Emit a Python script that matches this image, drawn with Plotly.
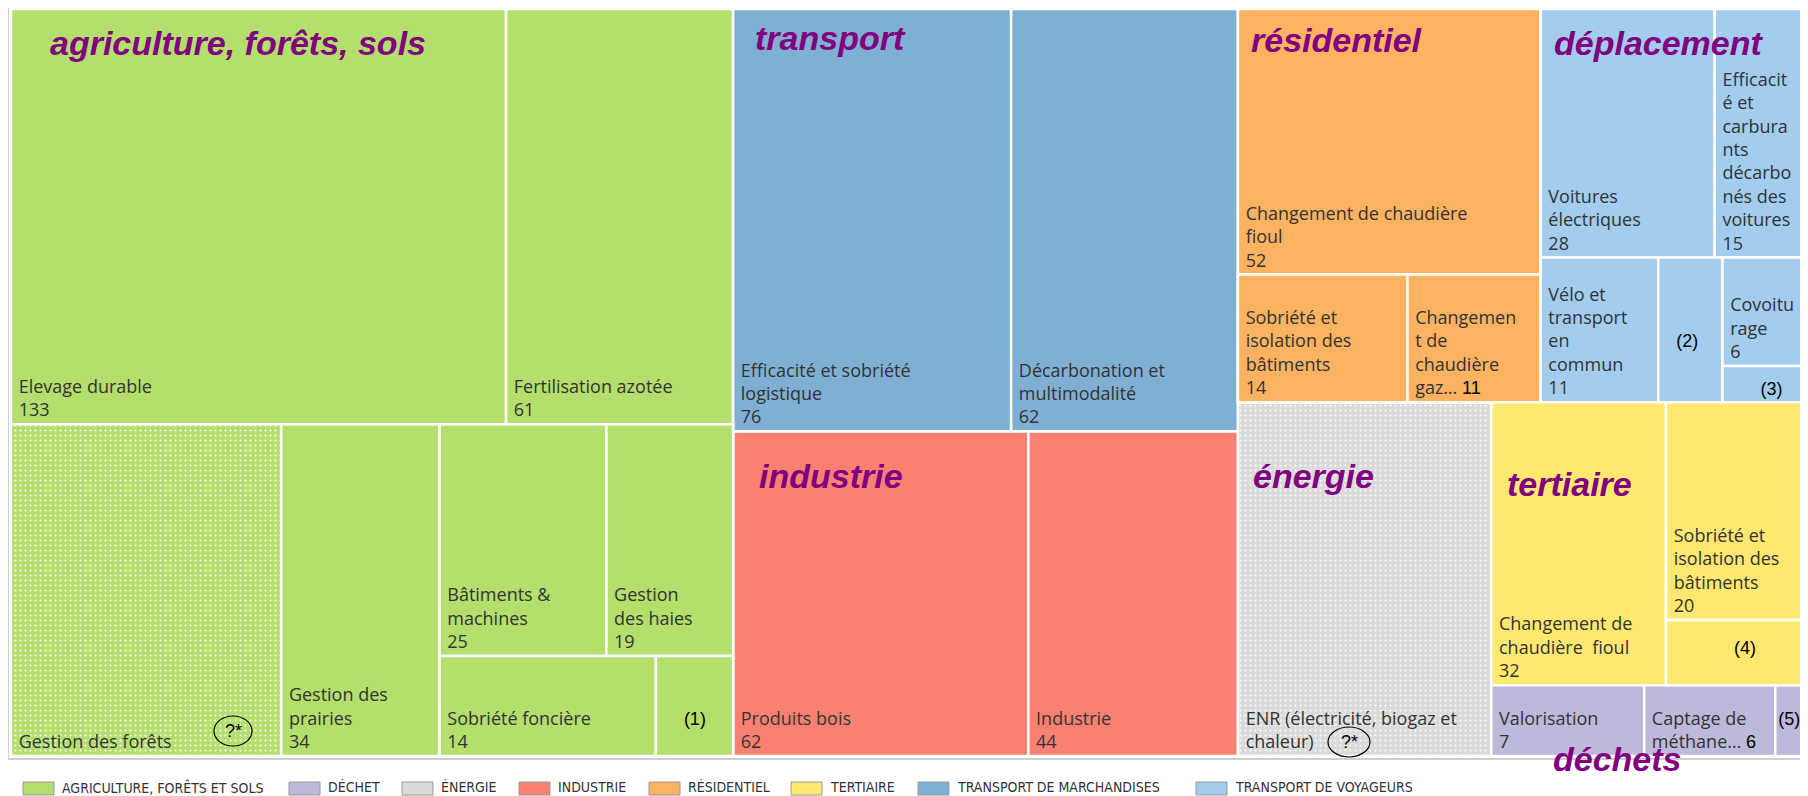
import plotly.graph_objects as go

# page has an 8px body margin: figure is sized so it fits the 1808x796 window
OFF = 8
W, H = 1808 - OFF, 796 - OFF

# ---------------- data ----------------
sectors = ["AGRICULTURE, FORÊTS ET SOLS", "DÉCHET", "ÉNERGIE", "INDUSTRIE",
           "RÉSIDENTIEL", "TERTIAIRE", "TRANSPORT DE MARCHANDISES", "TRANSPORT DE VOYAGEURS"]
sector_colors = ["#B4DF6D", "#BDB9DA", "#DADADA", "#FA8072",
                 "#FBB261", "#FFE870", "#7FB0D4", "#A2CDEE"]

# treemap nodes, listed depth-first (group nodes "g_*" only structure the tiling)
node_ids = [
    "root",
    "g_agri", "g_agri_top", "Elevage durable", "Fertilisation azotée",
    "g_agri_bot", "Gestion des forêts", "Gestion des prairies",
    "g_agri_small", "g_agri_s1", "Bâtiments & machines", "Gestion des haies",
    "g_agri_s2", "Sobriété foncière", "(1)",
    "g_ti", "g_transport", "Efficacité et sobriété logistique", "Décarbonation et multimodalité",
    "g_industrie", "Produits bois", "Industrie",
    "g_rest", "g_rv", "g_res", "Changement de chaudière fioul (rés.)", "g_res_b",
    "Sobriété et isolation des bâtiments (rés.)", "Changement de chaudière gaz",
    "g_voy", "g_voy_a", "Voitures électriques", "Efficacité et carburants décarbonés des voitures",
    "g_voy_b", "Vélo et transport en commun", "(2)", "g_voy_c", "Covoiturage", "(3)",
    "g_etd", "ENR (électricité, biogaz et chaleur)", "g_td", "g_tert",
    "Changement de chaudière fioul (tert.)", "g_tert_b",
    "Sobriété et isolation des bâtiments (tert.)", "(4)",
    "g_dech", "Valorisation", "Captage de méthane", "(5)",
]
node_parents = [
    "",
    "root", "g_agri", "g_agri_top", "g_agri_top",
    "g_agri", "g_agri_bot", "g_agri_bot",
    "g_agri_bot", "g_agri_small", "g_agri_s1", "g_agri_s1",
    "g_agri_small", "g_agri_s2", "g_agri_s2",
    "root", "g_ti", "g_transport", "g_transport",
    "g_ti", "g_industrie", "g_industrie",
    "root", "g_rest", "g_rv", "g_res", "g_res",
    "g_res_b", "g_res_b",
    "g_rv", "g_voy", "g_voy_a", "g_voy_a",
    "g_voy", "g_voy_b", "g_voy_b", "g_voy_b", "g_voy_c", "g_voy_c",
    "g_rest", "g_etd", "g_etd", "g_td",
    "g_tert", "g_tert",
    "g_tert_b", "g_tert_b",
    "g_td", "g_dech", "g_dech", "g_dech",
]
node_values = [
    0,
    0, 0, 133, 61,
    0, 58, 34,
    0, 0, 25, 19,
    0, 14, 5,
    0, 0, 76, 62,
    0, 62, 44,
    0, 0, 0, 52, 0,
    14, 11,
    0, 0, 28, 15,
    0, 11, 6, 0, 6, 2,
    0, 58, 0, 0,
    32, 0,
    20, 6,
    0, 7, 6, 1.5,
]
# sector index of each node (-1 for structural nodes)
node_sector = [
    -1,
    -1, -1, 0, 0,
    -1, 0, 0,
    -1, -1, 0, 0,
    -1, 0, 0,
    -1, -1, 6, 6,
    -1, 3, 3,
    -1, -1, -1, 4, -1,
    4, 4,
    -1, -1, 7, 7,
    -1, 7, 7, -1, 7, 7,
    -1, 2, -1, -1,
    5, -1,
    5, 5,
    -1, 1, 1, 1,
]
# printed label of each leaf, wrapped as in the source
node_label = [
    "",
    "", "", "Elevage durable", "Fertilisation azotée",
    "", "Gestion des forêts", "Gestion des<br>prairies",
    "", "", "Bâtiments &amp;<br>machines", "Gestion<br>des haies",
    "", "Sobriété foncière", "(1)",
    "", "", "Efficacité et sobriété<br>logistique", "Décarbonation et<br>multimodalité",
    "", "Produits bois", "Industrie",
    "", "", "", "Changement de chaudière<br>fioul", "",
    "Sobriété et<br>isolation des<br>bâtiments", "Changemen<br>t de<br>chaudière<br>gaz…",
    "", "", "Voitures<br>électriques", "Efficacit<br>é et<br>carbura<br>nts<br>décarbo<br>nés des<br>voitures",
    "", "Vélo et<br>transport<br>en<br>commun", "(2)", "", "Covoitu<br>rage", "(3)",
    "", "ENR (électricité, biogaz et<br>chaleur)", "", "",
    "Changement de<br>chaudière  fioul", "",
    "Sobriété et<br>isolation des<br>bâtiments", "(4)",
    "", "Valorisation", "Captage de<br>méthane…", "(5)",
]
# how the value is printed: "line" below label, "inline" after label, "none"
node_value_mode = [
    "none",
    "none", "none", "line", "line",
    "none", "none", "line",
    "none", "none", "line", "line",
    "none", "line", "none",
    "none", "none", "line", "line",
    "none", "line", "line",
    "none", "none", "none", "line", "none",
    "line", "inline",
    "none", "none", "line", "line",
    "none", "line", "none", "none", "line", "none",
    "none", "none", "none", "none",
    "line", "none",
    "line", "none",
    "none", "line", "inline", "none",
]
hatched = ["Gestion des forêts", "ENR (électricité, biogaz et chaleur)"]

# centred note cells: (left padding in nbsp, extra blank lines below)
note_offsets = {"(1)": (5, 1), "(2)": (3, 2), "(3)": (7, 0), "(4)": (13, 1), "(5)": (0, 1)}

category_titles = ["agriculture, forêts, sols", "transport", "résidentiel", "déplacement",
                   "industrie", "énergie", "tertiaire", "déchets"]

# ---------------- build ----------------
NB = "\u00a0"
ARIAL = "font-family:'Liberation Sans',Arial;color:#000000"


def fmt(v):
    return f"{v:g}"


texts, colors, patterns = [], [], []
for nid, lab, val, mode, sec in zip(node_ids, node_label, node_values, node_value_mode, node_sector):
    colors.append("#FFFFFF" if sec < 0 else sector_colors[sec])
    patterns.append("." if nid in hatched else "")
    if not lab:
        texts.append("")
        continue
    if nid in note_offsets:
        pad, extra = note_offsets[nid]
        t = f"<span style=\"{ARIAL}\">" + NB * pad + lab + "</span>" + ("<br>" + NB) * extra
    else:
        lines = lab.split("<br>")
        if mode == "line":
            lines.append(fmt(val))
        elif mode == "inline":
            lines[-1] = lines[-1] + f" <span style=\"{ARIAL}\">{fmt(val)}</span>"
        t = "<br>".join(NB + ln for ln in lines)
    texts.append(t)


def px(x):
    return (x - OFF) / W


def py(y):
    return 1 - (y - OFF) / H


fig = go.Figure()
fig.add_trace(go.Treemap(
    ids=node_ids,
    parents=node_parents,
    values=node_values,
    labels=node_ids,
    text=texts,
    texttemplate="%{text}",
    textposition="bottom left",
    branchvalues="remainder",
    sort=False,
    tiling=dict(packing="slice-dice", pad=0),
    marker=dict(colors=colors, depthfade=False,
                line=dict(color="white", width=2.5),
                pad=dict(t=0, l=0, r=0, b=0),
                pattern=dict(shape=patterns, bgcolor=colors, fgcolor="white",
                             fillmode="replace", size=5, solidity=0.12)),
    pathbar=dict(visible=False),
    textfont=dict(family="Open Sans, Noto Sans, sans-serif", size=18, color="#333333"),
    hoverinfo="skip",
    domain=dict(x=[px(11), 1.0], y=[py(756), py(9)]),
))

shapes, annots = [], []
# outer frame
shapes.append(dict(type="rect", xref="paper", yref="paper", x0=px(8), x1=px(1815),
                   y0=py(759), y1=py(5), line=dict(color="#CFCFCF", width=2), layer="below"))

# category titles (left x, vertical centre)
title_pos = [(48, 43), (753, 38), (1249, 40), (1552, 43), (757, 476), (1251, 476), (1505, 484), (1551, 759)]
for t, (x, y) in zip(category_titles, title_pos):
    annots.append(dict(text=t, x=px(x), y=py(y), xref="paper", yref="paper", xanchor="left",
                       yanchor="middle", showarrow=False,
                       font=dict(family="Liberation Sans, Arial, sans-serif", size=34, color="#800080",
                                 weight="bold", style="italic")))

# circled "?*" markers
for cx, cy, rx, ry in [(233, 731, 19, 15), (1349, 742, 21, 15)]:
    shapes.append(dict(type="circle", xref="paper", yref="paper", x0=px(cx - rx), x1=px(cx + rx),
                       y0=py(cy + ry), y1=py(cy - ry), line=dict(color="#000000", width=1.2)))
    annots.append(dict(text="?*", x=px(cx), y=py(cy), xref="paper", yref="paper", showarrow=False,
                       xanchor="center", yanchor="middle",
                       font=dict(family="Liberation Sans, Arial", size=18, color="#000000")))

# legend
legend_x = [23, 289, 402, 519, 649, 791, 918, 1196]
for name, col, x in zip(sectors, sector_colors, legend_x):
    shapes.append(dict(type="rect", xref="paper", yref="paper", x0=px(x), x1=px(x + 31),
                       y0=py(795), y1=py(782), fillcolor=col, line=dict(color="#9A9A9A", width=1)))
    annots.append(dict(text=name, x=px(x + 37), y=py(787), xref="paper", yref="paper",
                       xanchor="left", yanchor="middle", showarrow=False,
                       font=dict(family="Liberation Sans Narrow, DejaVu Sans Condensed, Roboto Condensed, Arial Narrow, sans-serif",
                                 size=14, color="#333333")))

fig.update_layout(
    width=W, height=H,
    margin=dict(l=0, r=0, t=0, b=0),
    paper_bgcolor="white",
    uniformtext=dict(minsize=18, mode="show"),
    shapes=shapes,
    annotations=annots,
)

fig.write_html("out.html")
